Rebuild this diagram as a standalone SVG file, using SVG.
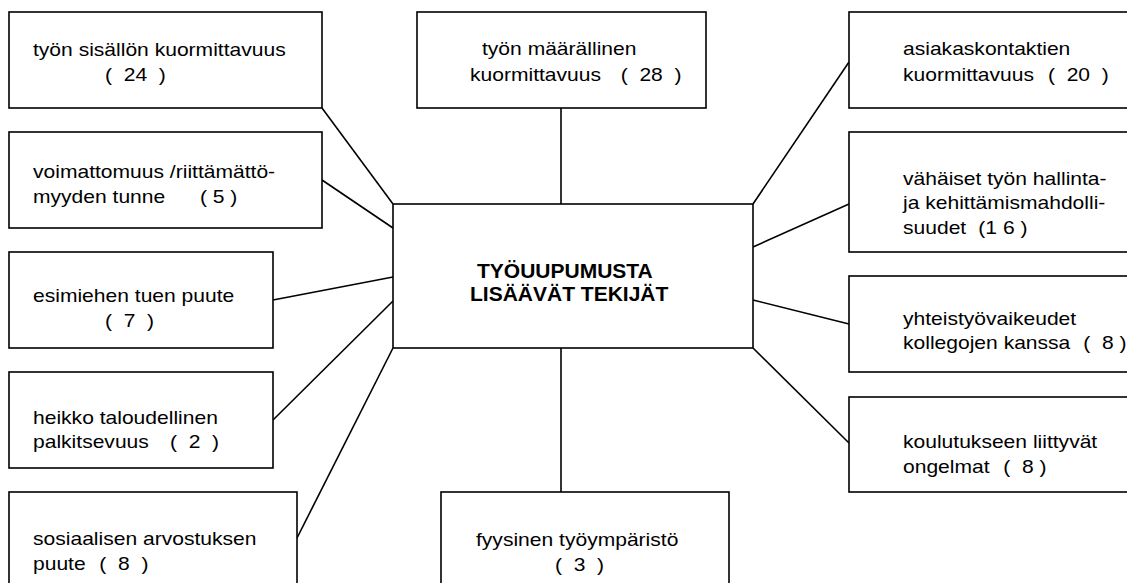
<svg xmlns="http://www.w3.org/2000/svg" width="1127" height="583" viewBox="0 0 1127 583">
<style>
rect{fill:#fff;stroke:#000;stroke-width:1.6}
.c line{stroke:#000;stroke-width:1.6}
text{font-family:"Liberation Sans",Arial,sans-serif;font-size:18px;fill:#000}
.b{font-size:21px;font-weight:bold}
</style>
<rect x="0" y="0" width="1127" height="583" style="stroke:none"/>
<g class="c" id="connectors">
<line x1="322" y1="108" x2="393" y2="204"/>
<line x1="322" y1="180" x2="393" y2="228"/>
<line x1="273" y1="300" x2="393" y2="277"/>
<line x1="273" y1="420" x2="393" y2="301"/>
<line x1="297" y1="538" x2="393" y2="348"/>
<line x1="561" y1="108" x2="561" y2="204"/>
<line x1="561" y1="348" x2="561" y2="492"/>
<line x1="849" y1="62" x2="753" y2="204"/>
<line x1="849" y1="204" x2="753" y2="247"/>
<line x1="849" y1="324" x2="753" y2="300"/>
<line x1="849" y1="443" x2="753" y2="348"/>
</g>
<g id="center">
<rect x="393" y="204" width="360" height="144"/>
<text class="b" x="477" y="278">TYÖUUPUMUSTA</text>
<text class="b" x="470" y="301">LISÄÄVÄT TEKIJÄT</text>
</g>
<g id="n1">
<rect x="9" y="12" width="313" height="96"/>
<text transform="matrix(1.17 0 0 1 33 56)">työn sisällön kuormittavuus</text>
<text transform="matrix(1.17 0 0 1 105 81)" xml:space="preserve">(  24  )</text>
</g>
<g id="n2">
<rect x="9" y="132" width="313" height="96"/>
<text transform="matrix(1.17 0 0 1 33 178)">voimattomuus /riittämättö-</text>
<text transform="matrix(1.17 0 0 1 33 203)">myyden tunne<tspan x="142.7">( 5 )</tspan></text>
</g>
<g id="n3">
<rect x="9" y="252" width="264" height="96"/>
<text transform="matrix(1.17 0 0 1 33 302)">esimiehen tuen puute</text>
<text transform="matrix(1.17 0 0 1 105 327)" xml:space="preserve">(  7  )</text>
</g>
<g id="n4">
<rect x="9" y="372" width="264" height="96"/>
<text transform="matrix(1.17 0 0 1 33 424)">heikko taloudellinen</text>
<text transform="matrix(1.17 0 0 1 33 448)" xml:space="preserve">palkitsevuus<tspan x="117.1">(  2  )</tspan></text>
</g>
<g id="n5">
<rect x="9" y="492" width="288" height="110"/>
<text transform="matrix(1.17 0 0 1 33 545)">sosiaalisen arvostuksen</text>
<text transform="matrix(1.17 0 0 1 33 570)" xml:space="preserve">puute<tspan x="56.7">(  8  )</tspan></text>
</g>
<g id="n6">
<rect x="417" y="12" width="289" height="96"/>
<text transform="matrix(1.17 0 0 1 482 55)">työn määrällinen</text>
<text transform="matrix(1.17 0 0 1 470 81)" xml:space="preserve">kuormittavuus<tspan x="128.8">(  28  )</tspan></text>
</g>
<g id="n7">
<rect x="441" y="492" width="288" height="110"/>
<text transform="matrix(1.17 0 0 1 476 546)">fyysinen työympäristö</text>
<text transform="matrix(1.17 0 0 1 555 571)" xml:space="preserve">(  3  )</text>
</g>
<g id="n8">
<rect x="849" y="12" width="290" height="96"/>
<text transform="matrix(1.17 0 0 1 903 55)">asiakaskontaktien</text>
<text transform="matrix(1.17 0 0 1 903 81)" xml:space="preserve">kuormittavuus<tspan x="123.9">(  20  )</tspan></text>
</g>
<g id="n9">
<rect x="849" y="132" width="290" height="120"/>
<text transform="matrix(1.17 0 0 1 903 185)">vähäiset työn hallinta-</text>
<text transform="matrix(1.17 0 0 1 903 209)">ja kehittämismahdolli-</text>
<text transform="matrix(1.17 0 0 1 903 234)" xml:space="preserve">suudet<tspan x="64.4">(1 6 )</tspan></text>
</g>
<g id="n10">
<rect x="849" y="276" width="290" height="96"/>
<text transform="matrix(1.17 0 0 1 903 325)">yhteistyövaikeudet</text>
<text transform="matrix(1.17 0 0 1 903 349)" xml:space="preserve">kollegojen kanssa<tspan x="154">(  8 )</tspan></text>
</g>
<g id="n11">
<rect x="849" y="397" width="290" height="95"/>
<text transform="matrix(1.17 0 0 1 903 448)">koulutukseen liittyvät</text>
<text transform="matrix(1.17 0 0 1 903 473)" xml:space="preserve">ongelmat<tspan x="85.7">(  8 )</tspan></text>
</g>
</svg>
